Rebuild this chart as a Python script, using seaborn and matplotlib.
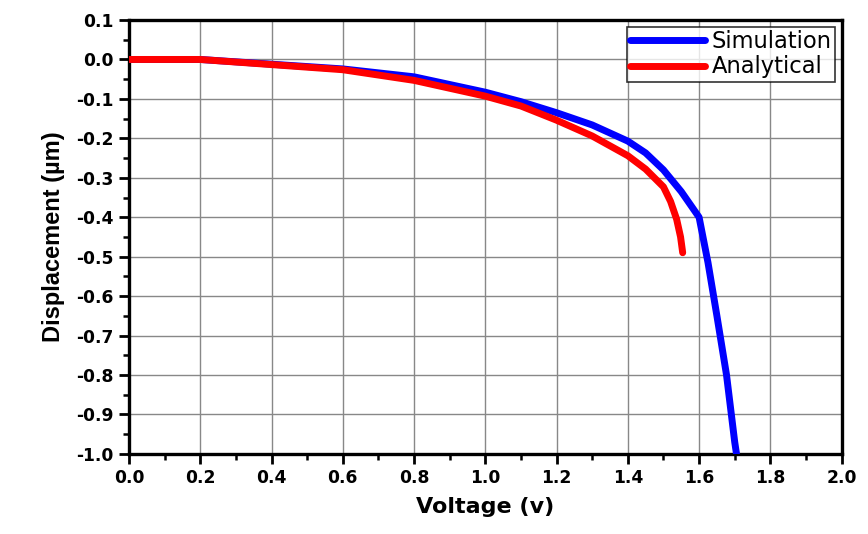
import matplotlib
matplotlib.use("Agg")
import matplotlib.pyplot as plt
from matplotlib.ticker import MultipleLocator, FormatStrFormatter
import seaborn as sns
import pandas as pd

sim_v = [0.0, 0.2, 0.4, 0.6, 0.8, 1.0, 1.1, 1.2, 1.3, 1.4, 1.45, 1.5, 1.55, 1.6, 1.625, 1.65, 1.677, 1.70, 1.705]
sim_d = [0.0, 0.0, -0.012, -0.024, -0.044, -0.083, -0.107, -0.135, -0.166, -0.207, -0.237, -0.28, -0.335, -0.40, -0.515, -0.65, -0.80, -0.97, -1.0]
ana_v = [0.0, 0.2, 0.4, 0.6, 0.8, 1.0, 1.1, 1.2, 1.3, 1.4, 1.45, 1.5, 1.52, 1.537, 1.548, 1.554]
ana_d = [0.0, 0.0, -0.013, -0.026, -0.053, -0.093, -0.118, -0.154, -0.194, -0.244, -0.278, -0.323, -0.36, -0.405, -0.45, -0.49]

df = pd.concat([
    pd.DataFrame({"Voltage": sim_v, "Displacement": sim_d, "Series": "Simulation"}),
    pd.DataFrame({"Voltage": ana_v, "Displacement": ana_d, "Series": "Analytical"}),
], ignore_index=True)

sns.set_style("white")
plt.rcParams['font.family'] = ['DejaVu Sans']
plt.rcParams['text.color'] = 'black'
plt.rcParams['axes.labelcolor'] = 'black'
plt.rcParams['xtick.color'] = 'black'
plt.rcParams['ytick.color'] = 'black'

fig = plt.figure(figsize=(8.68, 5.34), dpi=100)
ax = fig.add_axes([0.1486, 0.150, 0.821, 0.8125])

sns.lineplot(data=df, x="Voltage", y="Displacement", hue="Series", sort=False,
             palette={"Simulation": "#0000ff", "Analytical": "#ff0000"},
             linewidth=5, ax=ax, estimator=None, zorder=3)

ax.set_xlim(0, 2.0)
ax.set_ylim(-1.0, 0.1)
ax.xaxis.set_major_locator(MultipleLocator(0.2))
ax.xaxis.set_minor_locator(MultipleLocator(0.1))
ax.yaxis.set_major_locator(MultipleLocator(0.1))
ax.yaxis.set_minor_locator(MultipleLocator(0.05))
ax.xaxis.set_major_formatter(FormatStrFormatter("%.1f"))
ax.yaxis.set_major_formatter(FormatStrFormatter("%.1f"))

ax.grid(True, which="major", color="#888888", linewidth=1.0, zorder=0)
ax.set_axisbelow(True)

for s in ax.spines.values():
    s.set_visible(True)
    s.set_linewidth(2.4)
    s.set_color("black")

ax.tick_params(which="major", direction="out", length=7, width=2, labelsize=12.3,
               color="black", labelcolor="black", left=True, bottom=True, pad=4)
ax.tick_params(which="minor", direction="out", length=4, width=1.8, left=True, bottom=True,
               color="black")
for lab in ax.get_xticklabels() + ax.get_yticklabels():
    lab.set_fontweight("bold")
    lab.set_family("DejaVu Sans")

ax.set_xlabel("Voltage (v)", fontsize=16, fontweight="bold", labelpad=7,
              family="DejaVu Sans", color="black")
ax.set_ylabel("Displacement (µm)", fontsize=17, fontweight="bold", labelpad=8,
              family=["Liberation Sans", "DejaVu Sans"], color="black")

leg = ax.legend(loc="upper right", fontsize=16.3, frameon=True, fancybox=False,
                edgecolor="black", handlelength=3.3, borderpad=0.15, labelspacing=0.1,
                handletextpad=0.3, borderaxespad=0.3)
leg.get_frame().set_linewidth(1.2)
for line in leg.get_lines():
    line.set_linewidth(5)
    line.set_solid_capstyle("round")
for t in leg.get_texts():
    t.set_color("black")

fig.savefig("out.png", dpi=100)
